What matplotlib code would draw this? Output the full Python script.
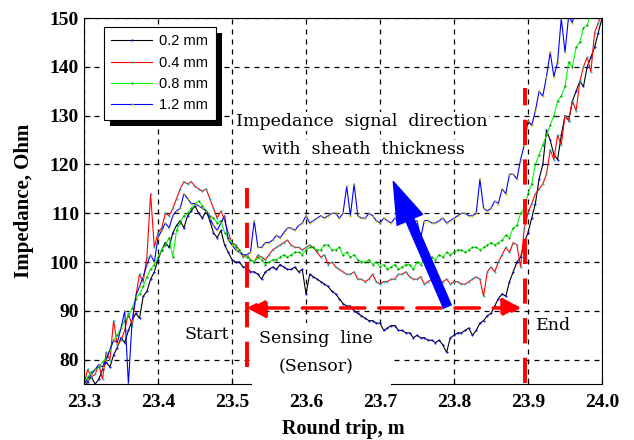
import matplotlib.pyplot as plt
from matplotlib.patches import Rectangle
import numpy as np

# round trip positions, m (0.005 m steps)
x = np.round(np.arange(23.30, 24.0001, 0.005), 3)

z_02 = [74.0, 75.5, 76.5, 75.0, 76.0, 78.0, 79.5, 78.5, 81.0, 82.5,
        84.5, 83.5, 86.0, 88.0, 89.5, 88.5, 93.0, 94.0, 96.5, 98.0,
        100.5, 102.5, 104.0, 103.0, 106.0, 107.5, 108.5, 107.0, 109.5, 110.5,
        111.5, 110.0, 109.0, 110.5, 108.5, 106.0, 105.0, 106.5, 103.5, 102.0,
        100.5, 100.0, 100.0, 99.0, 99.0, 98.0, 98.0, 97.5, 96.5, 98.0,
        98.5, 99.0, 98.5, 99.5, 99.0, 98.5, 98.5, 99.0, 98.0, 98.5,
        93.5, 97.5, 97.0, 96.5, 96.0, 95.5, 95.0, 94.0, 93.5, 92.5,
        91.5, 91.0, 91.0, 90.0, 89.5, 89.0, 88.5, 88.0, 88.0, 87.5,
        87.5, 86.0, 86.5, 87.0, 87.0, 86.0, 86.0, 85.5, 85.5, 84.5,
        85.0, 84.5, 84.5, 84.0, 84.0, 83.5, 84.0, 83.0, 81.5, 84.5,
        85.0, 85.5, 85.5, 86.0, 86.5, 85.0, 86.0, 87.5, 88.0, 89.0,
        89.5, 91.0, 92.5, 93.5, 93.0, 96.0, 98.0, 100.0, 101.0, 104.0,
        106.0, 109.0, 112.0, 117.0, 120.0, 127.0, 125.0, 122.0, 121.0, 126.0,
        130.0, 129.0, 133.0, 135.0, 137.0, 136.0, 140.0, 142.0, 144.0, 147.0,
        150.0]
z_04 = [75.0, 78.0, 76.5, 77.0, 79.0, 76.0, 81.5, 80.0, 88.0, 83.0,
        84.0, 86.0, 89.5, 87.0, 93.0, 97.5, 96.0, 101.0, 114.0, 103.0,
        106.0, 107.0, 110.0, 109.5, 111.0, 113.0, 115.0, 116.5, 116.0, 116.5,
        115.5, 115.0, 114.5, 115.0, 113.0, 111.0, 109.0, 110.5, 108.5, 106.0,
        104.0, 103.5, 102.5, 101.0, 101.5, 100.5, 100.0, 101.5, 101.0, 100.5,
        101.5, 102.5, 103.0, 103.5, 104.0, 104.5, 103.5, 103.0, 103.0, 102.5,
        103.0, 103.5, 103.0, 102.0, 101.0, 101.5, 99.5, 100.0, 99.0, 98.5,
        98.0, 97.5, 97.5, 98.0, 96.5, 96.5, 96.0, 96.5, 97.5, 96.0,
        95.5, 96.0, 96.0, 96.5, 96.5, 97.5, 97.5, 98.0, 97.0, 96.5,
        96.5, 97.0, 95.5, 96.0, 96.5, 97.0, 95.5, 96.0, 96.5, 95.5,
        96.0, 96.0, 95.5, 95.5, 96.0, 96.5, 97.0, 96.5, 93.0, 98.0,
        99.0, 98.0, 100.0, 101.5, 103.0, 102.0, 104.0, 103.5, 99.0, 107.0,
        110.0, 112.0, 114.0, 115.0, 116.0, 118.0, 123.0, 121.0, 126.0, 124.0,
        130.0, 129.0, 133.0, 131.0, 137.0, 140.0, 142.0, 139.0, 147.0, 149.0,
        151.0]
z_08 = [75.0, 76.5, 77.5, 78.0, 78.5, 79.5, 80.5, 82.0, 84.0, 85.0,
        86.5, 88.0, 89.0, 90.5, 92.5, 93.5, 95.0, 97.0, 98.5, 99.5,
        101.0, 102.5, 103.5, 105.0, 101.0, 106.5, 108.0, 109.5, 110.0, 111.0,
        112.0, 112.5, 111.5, 110.5, 109.5, 109.0, 108.0, 108.5, 106.0, 105.0,
        104.0, 103.0, 102.5, 101.5, 101.0, 100.5, 100.0, 101.0, 100.5, 99.5,
        100.0, 100.5, 100.5, 101.0, 101.5, 101.0, 101.5, 102.0, 102.0, 101.5,
        102.5, 103.0, 103.0, 102.5, 102.5, 103.5, 103.5, 102.5, 102.5, 103.0,
        101.5, 102.0, 101.0, 101.5, 100.5, 100.0, 100.0, 100.5, 99.5, 100.0,
        99.0, 99.5, 98.5, 99.0, 99.5, 98.5, 99.0, 99.5, 99.5, 98.5,
        100.0, 99.5, 100.5, 100.0, 101.0, 100.5, 101.5, 101.0, 102.0, 101.5,
        102.0, 102.5, 102.5, 102.0, 102.5, 103.0, 103.0, 102.5, 103.0, 103.5,
        104.0, 103.5, 104.0, 104.5, 105.5, 105.0, 107.0, 107.5, 110.0, 111.0,
        114.0, 116.0, 120.0, 122.0, 124.0, 126.0, 128.0, 130.0, 133.0, 134.0,
        136.0, 141.0, 140.0, 144.0, 145.0, 148.0, 148.5, 151.0, 151.0, 152.0,
        153.0]
z_12 = [75.0, 76.0, 77.0, 78.0, 79.0, 78.5, 80.0, 82.0, 84.0, 83.5,
        86.5, 90.0, 75.0, 88.0, 93.0, 95.0, 97.0, 99.5, 101.5, 100.0,
        105.0, 106.5, 108.0, 107.0, 109.5, 110.5, 111.0, 114.0, 113.0, 112.0,
        112.0, 111.5, 111.0, 110.5, 109.0, 107.5, 106.5, 108.0, 109.5, 104.5,
        103.5, 102.5, 102.0, 101.5, 101.5, 102.0, 108.5, 103.0, 103.0, 104.0,
        104.0, 104.5, 105.5, 105.0, 106.0, 107.0, 107.0, 106.5, 107.5, 108.0,
        109.5, 108.0, 108.5, 109.0, 109.5, 109.0, 109.5, 110.0, 110.0, 109.0,
        110.0, 115.5, 109.5, 116.0, 109.5, 109.0, 109.0, 110.0, 109.5, 108.5,
        108.0, 109.0, 108.5, 108.0, 109.0, 108.5, 108.0, 109.0, 108.5, 108.0,
        108.5, 105.0, 108.5, 108.5, 108.0, 108.0, 108.5, 109.0, 108.0, 108.5,
        109.0, 109.5, 110.0, 110.0, 109.5, 109.5, 110.0, 117.0, 111.0, 110.5,
        111.0, 112.5, 112.0, 115.0, 114.0, 118.0, 118.0, 117.0, 121.0, 124.0,
        129.0, 128.0, 131.0, 135.0, 134.0, 138.0, 143.0, 138.0, 141.0, 150.0,
        143.0, 150.5, 149.0, 153.0, 155.0, 156.0, 157.0, 158.0, 159.0, 160.0,
        160.0]

labels = ['0.2 mm', '0.4 mm', '0.8 mm', '1.2 mm']
line_colors = ['k', 'r', '#00ff00', 'b']
dot_colors = ['b', 'c', 'g', 'y']

fig = plt.figure(figsize=(6.34, 4.4), dpi=100)
ax = fig.add_axes([0.1325, 0.127, 0.817, 0.832])

for z, lab, lc, dc in zip([z_02, z_04, z_08, z_12], labels, line_colors, dot_colors):
    ax.plot(x, z, color=lc, lw=0.8, marker='.', ms=1.0, mfc=dc, mec=dc, label=lab)

ax.set_xlim(23.3, 24.0)
ax.set_ylim(75, 150)
ax.set_xticks(np.round(np.arange(23.3, 24.01, 0.1), 1))
ax.set_yticks(np.arange(80, 151, 10))
ax.grid(True, color='k', ls=(0, (4, 4)), lw=0.9)
ax.tick_params(direction='in', length=4)
ax.tick_params(axis='x', pad=7)
for t in ax.get_xticklabels() + ax.get_yticklabels():
    t.set_fontfamily('Liberation Serif')
    t.set_fontweight('bold')
    t.set_fontsize(14)
ax.set_xlabel('Round trip, m', fontfamily='Liberation Serif', fontweight='bold', fontsize=14.5,
              labelpad=6)
ax.set_ylabel('Impedance, Ohm', fontfamily='Liberation Serif', fontweight='bold', fontsize=15,
              labelpad=11)

leg = ax.legend(loc='upper left', bbox_to_anchor=(0.0386, 0.975), borderaxespad=0,
                fancybox=False, edgecolor='k', framealpha=1,
                prop={'family': 'Liberation Sans', 'size': 10.5}, handlelength=2.8,
                labelspacing=0.5, borderpad=0.5, handletextpad=0.5)
leg.get_frame().set_linewidth(0.8)
leg.set_zorder(10)

# sensing line markers
ax.plot([23.52, 23.52], [78.6, 115.1], color='r', lw=2.8, ls=(0, (6.5, 3.7)), zorder=5)
ax.plot([23.896, 23.896], [75.2, 135.7], color='r', lw=2.8, ls=(0, (6.5, 3.7)), zorder=5)
ax.annotate('', xy=(23.52, 90.6), xytext=(23.891, 90.6),
            arrowprops=dict(arrowstyle='<|-|>,head_length=0.8,head_width=0.42', color='r',
                            lw=2.5, ls=(0, (7, 4)), mutation_scale=14, shrinkA=0, shrinkB=0),
            zorder=6)
ax.annotate('', xy=(23.718, 116.5), xytext=(23.791, 90.9),
            arrowprops=dict(arrowstyle='simple,head_width=2.0,head_length=3.0,tail_width=0.6',
                            color='b', mutation_scale=10, shrinkA=0, shrinkB=0), zorder=7)

box = dict(facecolor='white', edgecolor='none', pad=1)
serif = 'DejaVu Serif'
ax.text(23.675, 128.8, 'Impedance  signal  direction', ha='center', va='center',
        fontfamily=serif, fontsize=12.5, bbox=box, zorder=4)
ax.text(23.677, 123.0, 'with  sheath  thickness', ha='center', va='center',
        fontfamily=serif, fontsize=12.5, bbox=box, zorder=4)
ax.text(23.466, 85.1, 'Start', ha='center', va='center', fontfamily=serif, fontsize=12.5,
        bbox=box, zorder=4)
# white block under the sensing line labels: hides grid (below data) and the bottom spine
ax.add_patch(Rectangle((23.527, 75.0), 0.188, 12.6, facecolor='white', edgecolor='none',
                       zorder=1.8))
ax.add_patch(Rectangle((23.527, 74.4), 0.188, 1.0, facecolor='white', edgecolor='none',
                       zorder=3, clip_on=False))
ax.text(23.614, 84.4, 'Sensing  line', ha='center', va='center', fontfamily=serif,
        fontsize=12.5, zorder=4)
ax.text(23.614, 78.6, '(Sensor)', ha='center', va='center', fontfamily=serif, fontsize=12.5,
        zorder=4)
ax.text(23.934, 87.0, 'End', ha='center', va='center', fontfamily=serif, fontsize=12.5,
        bbox=box, zorder=4)

# black drop shadow behind the legend, offset down-right
fig.canvas.draw()
bb = leg.get_window_extent()
ax.add_patch(Rectangle((bb.x0 + 6, bb.y0 - 6), bb.width, bb.height, transform=None,
                       facecolor='k', edgecolor='none', zorder=9.5, clip_on=False))

fig.savefig('out.png', dpi=100)
